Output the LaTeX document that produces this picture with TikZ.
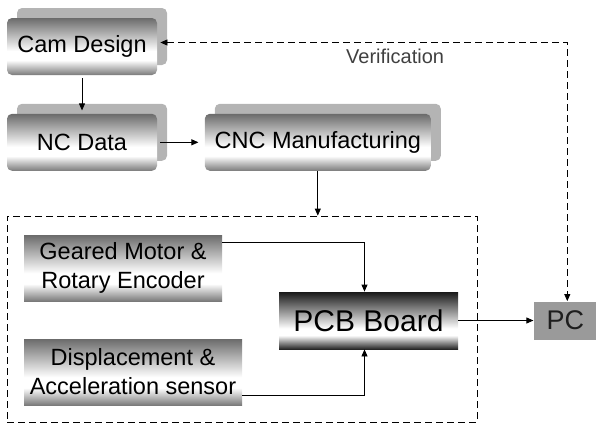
\documentclass[tikz,border=0pt]{standalone}
\usepackage{fontspec}
\setmainfont{Liberation Sans}
\usetikzlibrary{calc}
\usetikzlibrary{positioning}
\usetikzlibrary{shadows}
\usetikzlibrary{arrows.meta}
\definecolor{shadowgray}{HTML}{B4B4B4}
\definecolor{pcgray}{HTML}{9A9A9A}
\definecolor{pcink}{HTML}{1E1E1E}
% gray-white-gray and black-white-black fills
\pgfdeclareverticalshading{softshade}{100bp}{color(0bp)=(black!52); color(25bp)=(black!52); color(38bp)=(white); color(46bp)=(white); color(75bp)=(black!58); color(100bp)=(black!58)}
\pgfdeclareverticalshading{darkshade}{100bp}{color(0bp)=(black!85); color(25bp)=(black!85); color(37bp)=(white); color(43bp)=(white); color(75bp)=(black!90); color(100bp)=(black!90)}
\tikzset{x=1pt, y=-1pt,
  >={Triangle[length=7pt,width=6pt]},
  every node/.style={align=center, inner sep=2pt},
  every path/.style={line width=0.8pt},
  stagebox/.style={ % rounded boxes with a copy behind
    shading=softshade, rounded corners=5pt, minimum height=57pt,
    font=\fontsize{23.5}{29}\selectfont,
    general shadow={fill=shadowgray, shadow xshift=10pt, shadow yshift=10pt}},
  partbox/.style={shading=softshade, minimum height=66pt,
    font=\fontsize{23.5}{29}\selectfont},
  boardbox/.style={shading=darkshade, minimum width=179pt, minimum height=57pt,
    font=\fontsize{30}{36}\selectfont},
  pcbox/.style={fill=pcgray, minimum width=63pt, minimum height=38pt,
    text=pcink, font=\fontsize{27}{32}\selectfont},
  groupbox/.style={draw, dash pattern=on 7pt off 4pt},
  feedback/.style={<->, dash pattern=on 7pt off 4pt}}

\begin{document}
\begin{tikzpicture}
  \useasboundingbox (0,0) rectangle (596,426);

  \node [stagebox, minimum width=150pt] (cam) at (82,46.5) {Cam Design};
  \node [stagebox, minimum width=150pt, below=38pt of cam] (nc) {NC Data};
  \node [stagebox, minimum width=226pt, right=47pt of nc] (cnc) {CNC Manufacturing};

  \node [groupbox, minimum width=470pt, minimum height=206pt] (group) at (242,319) {};
  \node [partbox, minimum width=198pt] (motor) at (123,268) {Geared Motor \&\\Rotary Encoder};
  \node [partbox, minimum width=218pt] (sensor) at (133,372) {Displacement \&\\Acceleration sensor};
  \node [boardbox] (pcb) at (368.5,320.5) {PCB Board};
  \node [pcbox, right=75pt of pcb] (pc) {PC};

  \draw [->, shorten <=3pt, shorten >=3pt] (cam) -- (nc);
  \draw [->, shorten <=3pt, shorten >=6pt] (nc) -- (cnc);
  \draw [->] (cnc) -- (cnc |- group.north);
  \draw [->] ($(motor.north east)+(0,8)$) -| ([xshift=-4pt]pcb.north);
  \draw [->] ($(sensor.south east)+(0,-10)$) -| ([xshift=-4pt]pcb.south);
  \draw [->] (pcb) -- (pc);

  \draw [feedback, shorten <=3pt] ([shift={(0,-4)}]cam.east) -| ([xshift=2pt]pc.north)
    node [pos=0.29, below=4pt, text=black!75, font=\fontsize{20}{24}\selectfont] {Verification};

\end{tikzpicture}
\end{document}
